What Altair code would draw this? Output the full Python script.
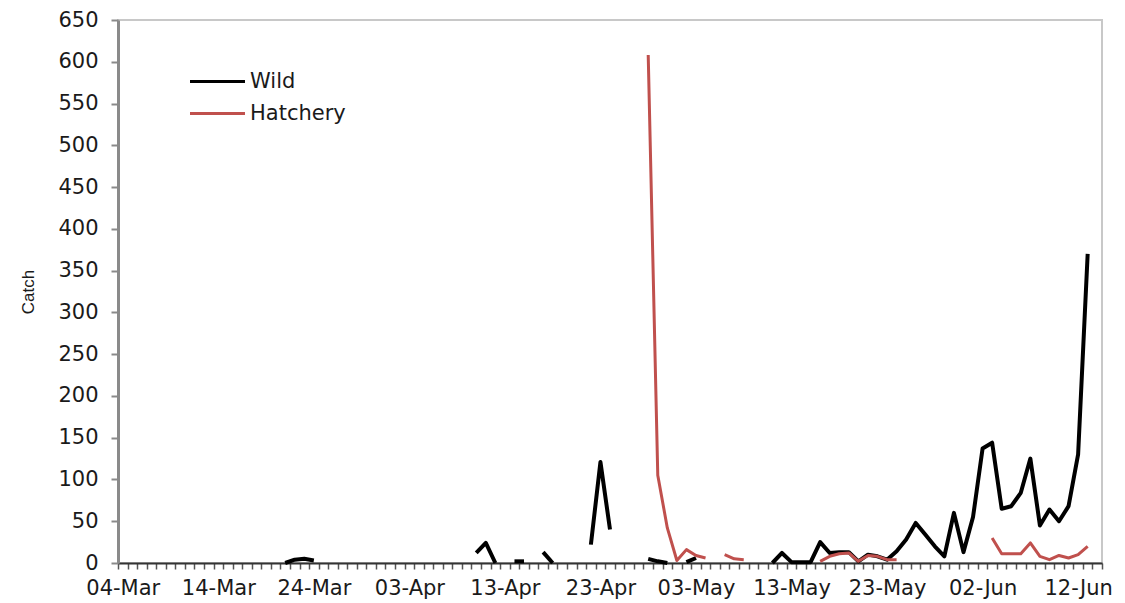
import altair as alt
import pandas as pd
from datetime import datetime, timezone

YEAR = 2013

# ---- axis / legend text ----
x_labels = ["04-Mar", "14-Mar", "24-Mar", "03-Apr", "13-Apr", "23-Apr",
            "03-May", "13-May", "23-May", "02-Jun", "12-Jun"]
y_ticks = list(range(0, 651, 50))
axis_start = "03-04"
axis_end = "06-15"

series_names = ["Wild", "Hatchery"]
series_colors = ["#000000", "#C0504D"]

# ---- data (month-day, catch) ----
wild_dates = ["03-21", "03-22", "03-23", "03-24",
              "04-10", "04-11", "04-12",
              "04-14", "04-15",
              "04-17", "04-18",
              "04-22", "04-23", "04-24",
              "04-28", "04-29", "04-30",
              "05-02", "05-03",
              "05-11", "05-12", "05-13", "05-14", "05-15", "05-16", "05-17",
              "05-18", "05-19", "05-20", "05-21", "05-22", "05-23", "05-24",
              "05-25", "05-26", "05-27", "05-28", "05-29", "05-30", "05-31",
              "06-01", "06-02", "06-03", "06-04", "06-05", "06-06", "06-07",
              "06-08", "06-09", "06-10", "06-11", "06-12", "06-13"]
wild_catch = [0, 4, 5, 3,
              12, 24, 0,
              2, 2,
              13, 0,
              22, 121, 40,
              5, 2, 0,
              1, 6,
              0, 12, 1, 1, 1, 25, 12,
              13, 13, 2, 10, 8, 4, 14,
              28, 48, 34, 20, 8, 60, 13,
              55, 137, 144, 65, 68, 84, 125,
              45, 64, 50, 68, 130, 370]

hatch_dates = ["04-28", "04-29", "04-30", "05-01", "05-02", "05-03", "05-04",
               "05-06", "05-07", "05-08",
               "05-16", "05-17", "05-18", "05-19", "05-20", "05-21", "05-22",
               "05-23", "05-24",
               "06-03", "06-04", "06-05", "06-06", "06-07", "06-08", "06-09",
               "06-10", "06-11", "06-12", "06-13"]
hatch_catch = [608, 105, 42, 3, 16, 9, 6,
               10, 5, 4,
               2, 8, 11, 12, 2, 9, 8,
               4, 4,
               30, 11, 11, 11, 24, 8, 4,
               9, 6, 10, 20]


def to_ms(md, hour=0):
    dt = datetime.strptime(f"{YEAR}-{md}", "%Y-%m-%d").replace(hour=hour, tzinfo=timezone.utc)
    return int(dt.timestamp() * 1000)


def label_ms(lbl):
    dt = datetime.strptime(f"{lbl}-{YEAR}", "%d-%b-%Y").replace(hour=12, tzinfo=timezone.utc)
    return int(dt.timestamp() * 1000)


def build(name, dates, values):
    rows, seg, prev = [], 0, None
    for md, v in zip(dates, values):
        day = datetime.strptime(f"{YEAR}-{md}", "%Y-%m-%d")
        if prev is not None and (day - prev).days != 1:
            seg += 1
        rows.append({"series": name, "t": to_ms(md, 12), "catch": v,
                     "seg": f"{name}-{seg}"})
        prev = day
    return pd.DataFrame(rows)


wild_df = build(series_names[0], wild_dates, wild_catch)
hatch_df = build(series_names[1], hatch_dates, hatch_catch)

x_min, x_max = to_ms(axis_start), to_ms(axis_end)
day_ms = 86400000
tick_values = list(range(x_min, x_max + 1, day_ms))
label_values = [label_ms(s) for s in x_labels]

PLOT_W, PLOT_H = 984, 543

x_scale = alt.Scale(type="utc", domain=[x_min, x_max], nice=False)

# axis with one tick per day (no labels)
x_ticks = alt.X(
    "t:T", scale=x_scale, title=None,
    axis=alt.Axis(
        orient="bottom", values=tick_values, labels=False,
        tickSize=6, tickColor="#555555", tickWidth=1.5,
        domainColor="#333333", domainWidth=2, grid=False,
    ),
)
# axis with the date labels, centred on their day
x_lab = alt.X(
    "t:T", scale=x_scale, title=None,
    axis=alt.Axis(
        orient="bottom", values=label_values,
        labelExpr="utcFormat(datum.value, '%d-%b')",
        ticks=False, tickSize=0, domain=False, grid=False,
        labelOverlap=False, labelFlush=False, labelBound=False,
        labelFont="DejaVu Sans", labelFontSize=21, labelColor="#1a1a1a",
        labelPadding=14,
    ),
)
y_enc = alt.Y(
    "catch:Q",
    scale=alt.Scale(domain=[0, 650], nice=False),
    axis=alt.Axis(
        values=y_ticks, grid=False,
        tickSize=7, tickColor="#8a8a8a", tickWidth=2,
        domainColor="#8a8a8a", domainWidth=3,
        labelFont="DejaVu Sans", labelFontSize=21, labelColor="#1a1a1a",
        labelPadding=13,
        titleFont="Liberation Sans", titleFontSize=17, titleFontWeight="normal",
        titleColor="#1a1a1a", titleX=-90, titleY=PLOT_H / 2,
        titleAlign="center", titleBaseline="middle",
    ),
    title="Catch",
)
color_enc = alt.Color(
    "series:N",
    scale=alt.Scale(domain=series_names, range=series_colors),
    legend=alt.Legend(
        title=None, orient="none", legendX=84, legendY=46,
        symbolType="M-2,0H2", symbolSize=756, symbolStrokeWidth=3,
        labelFont="DejaVu Sans", labelFontSize=21, labelColor="#1a1a1a",
        labelOffset=17, rowPadding=6, padding=0,
    ),
)

wild = alt.Chart(wild_df).mark_line(strokeWidth=4, strokeJoin="round").encode(
    x=x_ticks, y=y_enc, color=color_enc, detail="seg:N"
)
hatch = alt.Chart(hatch_df).mark_line(strokeWidth=3, strokeJoin="round").encode(
    x=x_lab, y=y_enc, color=color_enc, detail="seg:N"
)

chart = alt.layer(wild, hatch).resolve_axis(x="independent").properties(
    width=PLOT_W, height=PLOT_H,
    autosize=alt.AutoSizeParams(type="none"),
    padding={"left": 118, "top": 20, "right": 23, "bottom": 40},
    background="white",
).configure_view(stroke="#c8c8c8", strokeWidth=2)

chart.save("out.html", embed_options={"renderer": "svg", "actions": False})
